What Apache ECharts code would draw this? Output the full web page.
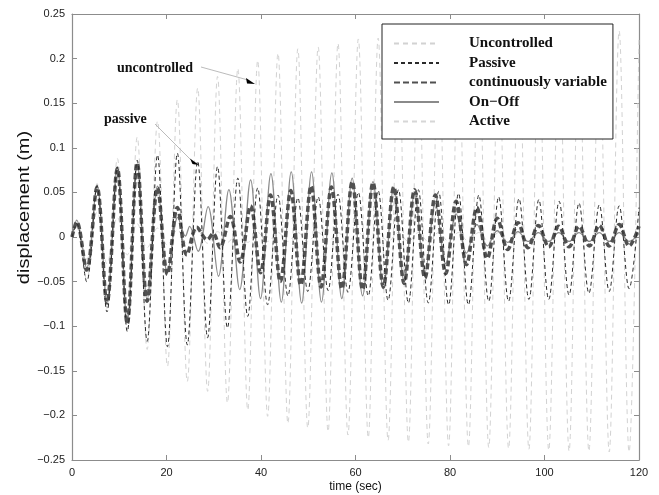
<!DOCTYPE html>
<html>
<head>
<meta charset="utf-8">
<script src="https://cdn.jsdelivr.net/npm/echarts@6/dist/echarts.min.js"></script>
<style>
html,body{margin:0;padding:0;background:#fff;}
#chart{width:659px;height:495px;}
</style>
</head>
<body>
<div id="chart"></div>
<script>
// ---- data (extrema of each trace) ----
const seriesNames = ['Uncontrolled', 'Passive', 'continuously variable', 'On\u2212Off', 'Active'];
const xTickLabels = ['0', '20', '40', '60', '80', '100', '120'];
const yTickLabels = ['\u22120.25', '\u22120.2', '\u22120.15', '\u22120.1', '\u22120.05', '0', '0.05', '0.1', '0.15', '0.2', '0.25'];
const xTitle = 'time (sec)';
const yTitle = 'displacement (m)';
const noteUncontrolled = 'uncontrolled';
const notePassive = 'passive';

const tGrid = [0, 1.0, 3.1, 5.3, 7.4, 9.6, 11.7, 13.8, 15.9, 18.1,
  20.2, 22.3, 24.4, 26.6, 28.7, 30.8, 32.9, 35.1, 37.2, 39.3,
  41.4, 43.6, 45.7, 47.8, 49.9, 52.1, 54.2, 56.3, 58.4, 60.6,
  62.7, 64.8, 66.9, 69.1, 71.2, 73.3, 75.4, 77.6, 79.7, 81.8,
  83.9, 86.1, 88.2, 90.3, 92.4, 94.6, 96.7, 98.8, 100.9, 103.1,
  105.2, 107.3, 109.4, 111.6, 113.7, 115.8, 117.9, 120];

const uncontrolled = [0, 0.018, -0.048, 0.06, -0.08, 0.088, -0.104, 0.112, -0.126, 0.13,
  -0.145, 0.154, -0.162, 0.167, -0.173, 0.18, -0.186, 0.189, -0.194, 0.198,
  -0.201, 0.206, -0.209, 0.211, -0.214, 0.213, -0.218, 0.217, -0.222, 0.222,
  -0.225, 0.223, -0.228, 0.224, -0.23, 0.225, -0.232, 0.226, -0.234, 0.227,
  -0.235, 0.227, -0.236, 0.228, -0.237, 0.228, -0.238, 0.229, -0.239, 0.229,
  -0.24, 0.23, -0.24, 0.23, -0.241, 0.231, -0.241, 0.225];

const passive = [0, 0.015, -0.05, 0.057, -0.084, 0.078, -0.106, 0.086, -0.117, 0.092,
  -0.123, 0.094, -0.121, 0.085, -0.113, 0.079, -0.102, 0.066, -0.089, 0.055,
  -0.076, 0.047, -0.066, 0.044, -0.061, 0.045, -0.06, 0.048, -0.062, 0.05,
  -0.066, 0.052, -0.071, 0.053, -0.074, 0.053, -0.074, 0.051, -0.076, 0.049,
  -0.076, 0.047, -0.072, 0.045, -0.072, 0.043, -0.07, 0.042, -0.07, 0.04,
  -0.065, 0.038, -0.063, 0.036, -0.061, 0.035, -0.058, 0.033];

const active = [0, 0.012, -0.025, 0.028, -0.03, 0.022, -0.02, 0.015, -0.012, 0.01,
  -0.009, 0.008, -0.008, 0.007, -0.007, 0.006, -0.006, 0.006, -0.006, 0.005,
  -0.005, 0.005, -0.005, 0.005, -0.005, 0.005, -0.005, 0.005, -0.005, 0.005,
  -0.005, 0.005, -0.005, 0.005, -0.005, 0.005, -0.005, 0.005, -0.005, 0.005,
  -0.005, 0.005, -0.005, 0.005, -0.005, 0.005, -0.005, 0.005, -0.005, 0.005,
  -0.005, 0.005, -0.005, 0.005, -0.005, 0.005, -0.005, 0.005];

const tCont = [0, 1.0, 3.1, 5.3, 7.4, 9.6, 11.7, 13.8, 15.9, 18.1,
  20.2, 22.3, 24.3, 26.4, 28.6, 29.9, 31.3, 33.5, 35.6, 37.8,
  39.9, 42.0, 44.1, 46.3, 48.4, 50.6, 52.7, 54.9, 57.1, 59.3,
  61.5, 63.7, 65.9, 68.1, 70.3, 72.5, 74.7, 76.9, 79.1, 81.3,
  83.5, 85.7, 87.9, 90.0, 92.2, 94.4, 96.5, 98.7, 100.9, 103.0,
  105.2, 107.3, 109.5, 111.6, 113.7, 115.8, 117.9, 120];

const contVariable = [0, 0.017, -0.037, 0.056, -0.074, 0.077, -0.097, 0.083, -0.072, 0.055,
  -0.042, 0.033, -0.02, 0.011, -0.003, 0.004, -0.012, 0.023, -0.028, 0.035,
  -0.04, 0.047, -0.05, 0.052, -0.054, 0.057, -0.056, 0.056, -0.058, 0.062,
  -0.059, 0.061, -0.056, 0.056, -0.052, 0.053, -0.046, 0.047, -0.041, 0.04,
  -0.031, 0.033, -0.024, 0.021, -0.014, 0.016, -0.012, 0.013, -0.011, 0.012,
  -0.011, 0.012, -0.01, 0.013, -0.01, 0.014, -0.01, 0.012];

const tOnOff = [0, 1.0, 3.1, 5.3, 7.4, 9.6, 11.7, 13.8, 15.9, 18.1,
  20.2, 22.4, 24.0, 24.9, 26.7, 28.8, 31.0, 33.2, 35.5, 37.8,
  39.9, 42.1, 44.3, 46.4, 48.6, 50.7, 52.8, 55.0, 57.1, 59.3,
  61.5, 63.7, 65.9, 68.1, 70.3, 72.5, 74.7, 76.9, 79.1, 81.3,
  83.5, 85.7, 87.9, 90.0, 92.2, 94.4, 96.5, 98.7, 100.9, 103.0,
  105.2, 107.3, 109.5, 111.6, 113.7, 115.8, 117.9, 120];

const onOff = [0, 0.019, -0.035, 0.058, -0.072, 0.078, -0.095, 0.082, -0.07, 0.057,
  -0.04, 0.022, 0.001, 0.012, -0.016, 0.034, -0.044, 0.053, -0.059, 0.064,
  -0.069, 0.071, -0.073, 0.073, -0.074, 0.073, -0.073, 0.072, -0.069, 0.066,
  -0.066, 0.062, -0.058, 0.056, -0.05, 0.048, -0.04, 0.038, -0.03, 0.026,
  -0.018, 0.014, -0.01, 0.007, -0.006, 0.006, -0.005, 0.005, -0.005, 0.005,
  -0.005, 0.005, -0.005, 0.005, -0.005, 0.005, -0.005, 0.004];

// ---- build chart ----
function zip(ts, vs) { return ts.map((t, i) => [t, vs[i]]); }
const chart = echarts.init(document.getElementById('chart'), null, {renderer: 'canvas'});
const SANS = '"Liberation Sans", Arial, Helvetica, sans-serif';
const SERIF = '"Liberation Serif", "Times New Roman", serif';
const axisCol = '#8c8c8c';
const SM = 0.36;

function lineSeries(name, data, color, width, type, z) {
  return {
    name: name, type: 'line', data: data, showSymbol: false, symbol: 'none',
    smooth: SM, z: z, silent: true,
    lineStyle: {color: color, width: width, type: type},
    itemStyle: {color: color}
  };
}

const option = {
  animation: false,
  backgroundColor: '#ffffff',
  grid: {left: 72, right: 20, top: 14, bottom: 35, containLabel: false},
  xAxis: [{
    type: 'value', min: 0, max: 120, interval: 20,
    axisLine: {show: true, onZero: false, lineStyle: {color: axisCol, width: 1.2}},
    axisTick: {show: true, inside: true, length: 5, lineStyle: {color: axisCol}},
    splitLine: {show: false},
    axisLabel: {margin: 7, color: '#222', fontFamily: SANS, fontSize: 11,
      formatter: (v, i) => xTickLabels[i]}
  }, {
    type: 'value', min: 0, max: 120, interval: 20, position: 'top',
    axisLine: {show: true, onZero: false, lineStyle: {color: axisCol, width: 1.2}},
    axisTick: {show: true, inside: true, length: 5, lineStyle: {color: axisCol}},
    splitLine: {show: false}, axisLabel: {show: false}
  }],
  yAxis: [{
    type: 'value', min: -0.25, max: 0.25, interval: 0.05,
    axisLine: {show: true, onZero: false, lineStyle: {color: axisCol, width: 1.2}},
    axisTick: {show: true, inside: true, length: 5, lineStyle: {color: axisCol}},
    splitLine: {show: false},
    axisLabel: {margin: 7, color: '#222', fontFamily: SANS, fontSize: 11,
      formatter: (v, i) => yTickLabels[i]}
  }, {
    type: 'value', min: -0.25, max: 0.25, interval: 0.05, position: 'right',
    axisLine: {show: true, onZero: false, lineStyle: {color: axisCol, width: 1.2}},
    axisTick: {show: true, inside: true, length: 5, lineStyle: {color: axisCol}},
    splitLine: {show: false}, axisLabel: {show: false}
  }],
  legend: {
    data: seriesNames,
    orient: 'vertical', left: 382, top: 24,
    padding: [12, 6, 10, 11],
    itemWidth: 45, itemHeight: 14, itemGap: 4.5,
    backgroundColor: '#ffffff', borderColor: '#222', borderWidth: 1,
    selectedMode: false,
    itemStyle: {opacity: 0, color: 'transparent', borderWidth: 0},
    textStyle: {fontFamily: SERIF, fontWeight: 'bold', fontSize: 15, color: '#111',
      lineHeight: 14, padding: [0, 0, 0, 25]}
  },
  series: [
    lineSeries(seriesNames[0], zip(tGrid, uncontrolled), '#d2d2d2', 1, [5, 4], 1),
    lineSeries(seriesNames[4], zip(tGrid, active), '#d6d6d6', 1, [5, 4], 2),
    lineSeries(seriesNames[3], zip(tOnOff, onOff), '#8a8a8a', 1.3, 'solid', 3),
    lineSeries(seriesNames[2], zip(tCont, contVariable), '#505050', 3.5, [6, 3], 4),
    lineSeries(seriesNames[1], zip(tGrid, passive), '#2a2a2a', 1, [4, 3], 5)
  ],
  graphic: [
    {type: 'text', x: 24.5, y: 207.5, rotation: Math.PI / 2, scaleX: 1.25, z: 10,
      style: {text: yTitle, fontFamily: SANS, fontSize: 16, fill: '#111',
        textAlign: 'center', textVerticalAlign: 'middle'}},
    {type: 'text', x: 355.5, y: 487, z: 10,
      style: {text: xTitle, fontFamily: SANS, fontSize: 12, fill: '#111',
        textAlign: 'center', textVerticalAlign: 'middle'}},
    {type: 'text', x: 117, y: 68, z: 10,
      style: {text: noteUncontrolled, fontFamily: SERIF, fontWeight: 'bold', fontSize: 14, fill: '#111',
        textAlign: 'left', textVerticalAlign: 'middle'}},
    {type: 'text', x: 104, y: 119, z: 10,
      style: {text: notePassive, fontFamily: SERIF, fontWeight: 'bold', fontSize: 14, fill: '#111',
        textAlign: 'left', textVerticalAlign: 'middle'}},
    {type: 'line', z: 10, shape: {x1: 201, y1: 67, x2: 248, y2: 80},
      style: {stroke: '#aaa', lineWidth: 0.8}},
    {type: 'polygon', z: 10, shape: {points: [[255, 84], [246, 78], [247, 83.5]]},
      style: {fill: '#000'}},
    {type: 'line', z: 10, shape: {x1: 155, y1: 124, x2: 191, y2: 160},
      style: {stroke: '#aaa', lineWidth: 0.8}},
    {type: 'polygon', z: 10, shape: {points: [[199, 165], [190, 158.5], [192.5, 164]]},
      style: {fill: '#000'}}
  ]
};
chart.setOption(option);
</script>
</body>
</html>
